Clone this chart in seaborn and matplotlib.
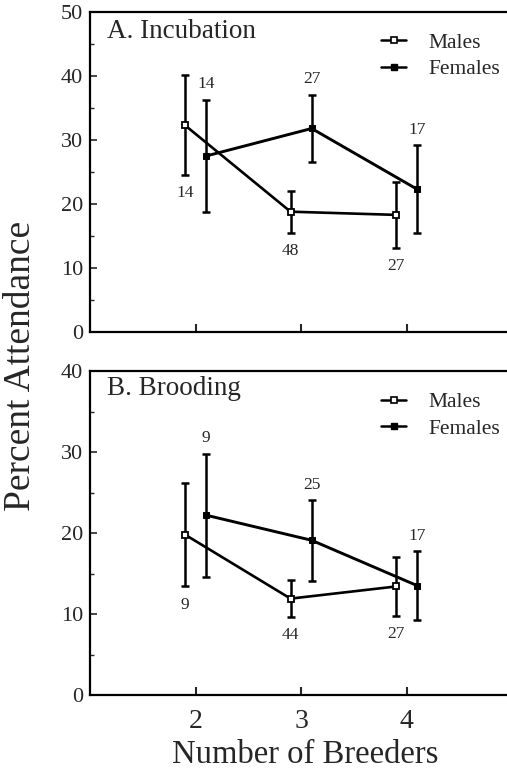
import numpy as np
import pandas as pd
import matplotlib
matplotlib.use("Agg")
import matplotlib.pyplot as plt
import seaborn as sns
from matplotlib.lines import Line2D
from matplotlib.ticker import MultipleLocator

sns.set_theme(style="ticks")
plt.rcParams['font.family'] = ['Liberation Serif', 'DejaVu Serif']

# ---- data ----
breeders = [2, 3, 4]
# Incubation
inc_male_mean = [32.3, 18.8, 18.3]
inc_male_err = [7.8, 3.3, 5.2]
inc_male_n = ["14", "48", "27"]
inc_female_mean = [27.5, 31.8, 22.3]
inc_female_err = [8.8, 5.3, 6.9]
inc_female_n = ["14", "27", "17"]
# Brooding
br_male_mean = [19.8, 11.9, 13.4]
br_male_err = [6.4, 2.3, 3.6]
br_male_n = ["9", "44", "27"]
br_female_mean = [22.2, 19.1, 13.5]
br_female_err = [7.6, 5.0, 4.3]
br_female_n = ["9", "25", "17"]

panel_titles = ["A. Incubation", "B. Brooding"]
series_labels = ["Males", "Females"]
x_offset = 0.1

fig = plt.figure(figsize=(5.07, 7.73), dpi=100)
ax1 = fig.add_axes([90/507, (773-332)/773, 1 - 90/507 + 0.004, 320/773])
ax2 = fig.add_axes([90/507, (773-695)/773, 1 - 90/507 + 0.004, 324/773])

panels = [
    (ax1, inc_male_mean, inc_male_err, inc_male_n, inc_female_mean, inc_female_err, inc_female_n, 50),
    (ax2, br_male_mean, br_male_err, br_male_n, br_female_mean, br_female_err, br_female_n, 40),
]

for i, (ax, mm, me, mn, fm, fe, fn, ymax) in enumerate(panels):
    xm = np.array(breeders) - x_offset
    xf = np.array(breeders) + x_offset
    df_m = pd.DataFrame({"x": xm, "y": mm})
    df_f = pd.DataFrame({"x": xf, "y": fm})
    ax.errorbar(xm, mm, yerr=me, fmt='none', ecolor='black', elinewidth=1.8,
                capsize=2.6, capthick=1.8, zorder=2)
    ax.errorbar(xf, fm, yerr=fe, fmt='none', ecolor='black', elinewidth=1.8,
                capsize=2.6, capthick=1.8, zorder=2)
    sns.lineplot(data=df_m, x="x", y="y", ax=ax, color='black', lw=1.9,
                 marker='s', markersize=4.8, markerfacecolor='white',
                 markeredgecolor='black', markeredgewidth=1.3, zorder=3)
    sns.lineplot(data=df_f, x="x", y="y", ax=ax, color='black', lw=2.1,
                 marker='s', markersize=4.0, markerfacecolor='black',
                 markeredgecolor='black', zorder=3)
    for x, y, e, t in zip(xm, mm, me, mn):
        ax.annotate(t, (x, y - e), xytext=(0, -13), textcoords='offset points',
                    ha='center', va='center', fontsize=12.5)
    for x, y, e, t in zip(xf, fm, fe, fn):
        ax.annotate(t, (x, y + e), xytext=(0, 11), textcoords='offset points',
                    ha='center', va='center', fontsize=12.5)

    ax.set_xlim(1, 4.97)
    ax.set_ylim(0, ymax)
    ax.yaxis.set_major_locator(MultipleLocator(10))
    ax.yaxis.set_minor_locator(MultipleLocator(5))
    ax.set_xticks(breeders)
    ax.set_xlabel("")
    ax.set_ylabel("")
    ax.tick_params(axis='y', which='major', direction='in', length=5, width=1.2,
                   labelsize=16, pad=5)
    ax.tick_params(axis='y', which='minor', direction='in', length=3, width=1.0)
    ax.tick_params(axis='x', which='major', direction='in', length=6, width=1.5,
                   labelsize=20, pad=10)
    if i == 0:
        ax.set_xticklabels([])
    for sp in ax.spines.values():
        sp.set_linewidth(1.6)
        sp.set_color('black')
    ax.text(0.04, 0.94 if i == 0 else 0.945, panel_titles[i], transform=ax.transAxes,
            fontsize=19.5, ha='left', va='center')
    handles = [
        Line2D([], [], color='black', lw=1.8, marker='s', markersize=4,
               markerfacecolor='white', markeredgecolor='black', markeredgewidth=1.2),
        Line2D([], [], color='black', lw=1.8, marker='s', markersize=4,
               markerfacecolor='black', markeredgecolor='black'),
    ]
    ax.legend(handles, series_labels, loc='upper left', bbox_to_anchor=(0.695, 0.935),
              frameon=False, fontsize=15.5, handlelength=1.15, handletextpad=1.05,
              labelspacing=0.3, borderpad=0, borderaxespad=0)

fig.text(21/507, 1 - 366/773, "Percent Attendance", rotation=90, ha='center',
         va='center', fontsize=27)
fig.text(305/507, 1 - 755/773, "Number of Breeders", ha='center', va='center',
         fontsize=23.5)

fig.savefig("out.png", dpi=100, facecolor='white')
